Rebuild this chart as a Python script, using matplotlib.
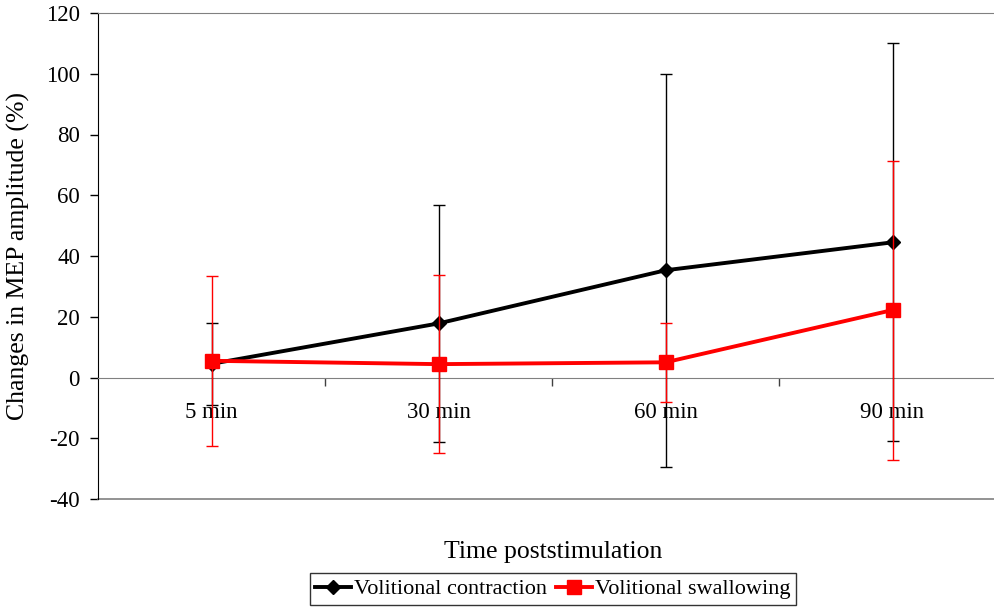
import matplotlib
matplotlib.use("Agg")
import matplotlib.pyplot as plt
from matplotlib.lines import Line2D
from matplotlib.ticker import FixedLocator, NullFormatter, FixedFormatter

plt.rcParams['font.family'] = ['Liberation Serif', 'DejaVu Serif']

categories = ["5 min", "30 min", "60 min", "90 min"]
contraction_mean = [4.5, 17.8, 35.3, 44.5]
contraction_sd = [13.5, 39.0, 64.7, 65.5]
swallowing_mean = [5.5, 4.4, 5.0, 22.2]
swallowing_sd = [28.0, 29.3, 13.0, 49.2]
yticks = [-40, -20, 0, 20, 40, 60, 80, 100, 120]
series_names = ['Volitional contraction', 'Volitional swallowing']

fig = plt.figure(figsize=(9.95, 6.09), dpi=100)
ax = fig.add_axes([98/995, 1-499/609, 908/995, 486/609])

x = list(range(len(categories)))
black_style = dict(color='black', lw=2.8, marker='D', markersize=7.5)
red_style = dict(color='#ff0000', lw=2.8, marker='s', markersize=9.5)
ax.errorbar(x, contraction_mean, yerr=contraction_sd, ecolor='black', elinewidth=1,
            capsize=4, capthick=1, zorder=3, **black_style)
ax.errorbar(x, swallowing_mean, yerr=swallowing_sd, ecolor='#ff0000', elinewidth=1,
            capsize=4, capthick=1, zorder=4, **red_style)

ax.set_xlim(-0.5, len(categories) - 0.5)
ax.set_ylim(-40, 120)
ax.set_yticks(yticks)
ax.set_yticklabels([str(v) for v in yticks])
ax.tick_params(axis='y', direction='out', length=6, width=1, pad=7, labelsize=16.5,
               colors='black')

ax.spines['bottom'].set_position(('data', 0))
ax.spines['bottom'].set_color('#808080')
ax.spines['right'].set_visible(False)
ax.spines['top'].set_color('#808080')
ax.spines['left'].set_color('black')
ax.axhline(-40, color='#808080', lw=1.2, clip_on=False)

ax.xaxis.set_major_locator(FixedLocator([i + 0.5 for i in x[:-1]]))
ax.xaxis.set_major_formatter(NullFormatter())
ax.xaxis.set_minor_locator(FixedLocator(x))
ax.xaxis.set_minor_formatter(FixedFormatter(categories))
ax.tick_params(axis='x', which='major', direction='out', length=6, width=1, color='#404040')
ax.tick_params(axis='x', which='minor', length=0, pad=18, labelsize=16.5)

ax.set_ylabel('Changes in MEP amplitude (%)', fontsize=18.5)
ax.yaxis.set_label_coords((30-98)/908, 0.5)
ax.set_xlabel('Time poststimulation', fontsize=18.5)
ax.xaxis.set_label_coords((553-98)/908, (499-541)/486)

handles = [Line2D([], [], **black_style), Line2D([], [], **red_style)]
leg = fig.legend(handles, series_names, loc='center', bbox_to_anchor=(553/995, 1-589/609),
                 ncol=2, fontsize=16, frameon=True, fancybox=False, edgecolor='black',
                 handlelength=1.6, handletextpad=0.15, columnspacing=0.4,
                 borderpad=0.25, borderaxespad=0)
leg.get_frame().set_linewidth(1)

fig.savefig('out.png', dpi=100)
